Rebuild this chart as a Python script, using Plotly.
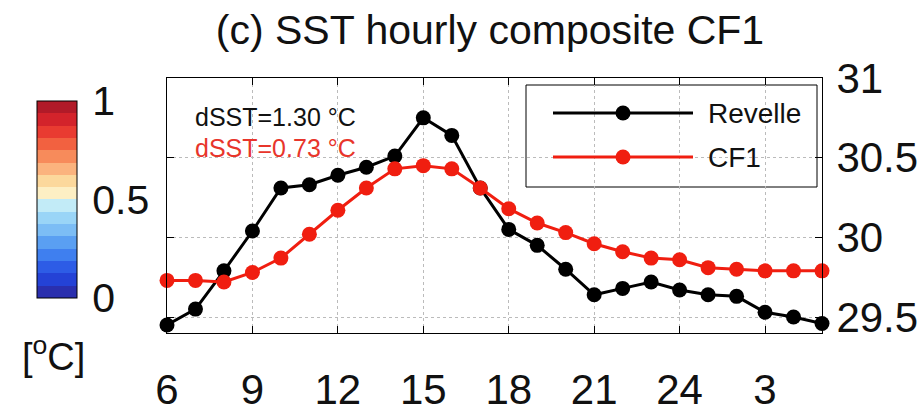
import plotly.graph_objects as go

# ---- data ----
hours = list(range(6, 30))  # local hour 6 .. 29 (29 = 05 next day)
revelle = [29.45, 29.55, 29.79, 30.04, 30.31, 30.33, 30.39, 30.44, 30.51, 30.75,
           30.64, 30.31, 30.05, 29.95, 29.80, 29.64, 29.68, 29.72, 29.67, 29.64,
           29.63, 29.53, 29.50, 29.46]
cf1 = [29.73, 29.73, 29.72, 29.78, 29.87, 30.02, 30.17, 30.31, 30.43, 30.45,
       30.43, 30.31, 30.18, 30.09, 30.03, 29.96, 29.91, 29.87, 29.86, 29.81,
       29.80, 29.79, 29.79, 29.79]
xtick_vals = [6, 9, 12, 15, 18, 21, 24, 27]
xtick_text = ["6", "9", "12", "15", "18", "21", "24", "3"]
ytick_vals = [29.5, 30, 30.5, 31]
ytick_text = ["29.5", "30", "30.5", "31"]
cbar_colors = ["#2a2fae", "#2442d6", "#2d5ce6", "#3f7fef", "#5a9ff2", "#7cbdf5",
               "#9ad5f7", "#c2ebf7", "#fdefc4", "#fcd89c", "#fbb37e", "#f78b5b",
               "#f26140", "#e93b31", "#d3232b", "#b11a28"]
legend_names = ["Revelle", "CF1"]
dsst_rev = "dSST=1.30 °C"
dsst_cf1 = "dSST=0.73 °C"

FONT = "Liberation Sans, Arial, Helvetica, sans-serif"
RED = "#f01e10"

# plot area in pixels
W, H = 922, 419
L, R, T, B = 167, 822, 78, 333

fig = go.Figure()

fig.add_trace(go.Scatter(x=hours, y=revelle, mode="lines+markers", name="Revelle",
                         line=dict(color="black", width=3),
                         marker=dict(color="black", size=15), cliponaxis=False,
                         showlegend=False))
fig.add_trace(go.Scatter(x=hours, y=cf1, mode="lines+markers", name="CF1",
                         line=dict(color=RED, width=3),
                         marker=dict(color=RED, size=15), cliponaxis=False,
                         showlegend=False))

# colorbar via a hidden heatmap on overlay axes
n = len(cbar_colors)
cs = []
for i, c in enumerate(cbar_colors):
    cs.append([i / n, c])
    cs.append([(i + 1) / n, c])
fig.add_trace(go.Heatmap(z=[[0, 1]], x=[5, 6], y=[5], xaxis="x2", yaxis="y2",
                         colorscale=cs, zmin=0, zmax=1, hoverinfo="skip",
                         colorbar=dict(x=(37 - L) / (R - L), xanchor="left",
                                       y=(B - 199.5) / (B - T), yanchor="middle",
                                       thickness=40, thicknessmode="pixels",
                                       len=197, lenmode="pixels",
                                       xpad=0, ypad=0,
                                       outlinewidth=1, outlinecolor="black",
                                       tickvals=[0, 0.5, 1], ticktext=["0", "0.5", "1"],
                                       ticks="outside", ticklen=7, tickcolor="rgba(0,0,0,0)",
                                       tickfont=dict(size=41, family=FONT, color="#111"))))

# custom legend (overlay axes 0..1)
def px_x(p):
    return (p - L) / (R - L)

def px_y(p):
    return (B - p) / (B - T)

leg_rows = [(legend_names[0], "black", 113), (legend_names[1], RED, 157)]
for name, col, ypx in leg_rows:
    yy = px_y(ypx)
    fig.add_trace(go.Scatter(x=[px_x(553), px_x(693)], y=[yy, yy], mode="lines",
                             line=dict(color=col, width=3), xaxis="x2", yaxis="y2",
                             showlegend=False, hoverinfo="skip"))
    fig.add_trace(go.Scatter(x=[px_x(623)], y=[yy], mode="markers",
                             marker=dict(color=col, size=15), xaxis="x2", yaxis="y2",
                             showlegend=False, hoverinfo="skip"))
    fig.add_annotation(x=px_x(706), y=yy, xref="x2", yref="y2", text=name,
                       showarrow=False, xanchor="left", yanchor="middle",
                       font=dict(size=28, family=FONT, color="#111"))

fig.add_shape(type="rect", xref="paper", yref="paper",
              x0=px_x(526), x1=px_x(817), y0=px_y(187), y1=px_y(85),
              line=dict(color="black", width=1), fillcolor="white", layer="between")

# dSST annotations
fig.add_annotation(x=px_x(193), y=px_y(117), xref="paper", yref="paper", text=dsst_rev,
                   showarrow=False, xanchor="left", yanchor="middle",
                   font=dict(size=25, family=FONT, color="#111"))
fig.add_annotation(x=px_x(193), y=px_y(148), xref="paper", yref="paper", text=dsst_cf1,
                   showarrow=False, xanchor="left", yanchor="middle",
                   font=dict(size=25, family=FONT, color="#e8352b"))

# colorbar unit label
fig.add_annotation(x=px_x(53), y=px_y(354), xref="paper", yref="paper",
                   text="[<sup>o</sup>C]", showarrow=False, xanchor="center", yanchor="middle",
                   font=dict(size=38, family=FONT, color="#111"))

axis_common = dict(showline=True, linecolor="black", linewidth=1, mirror="ticks",
                   ticks="inside", ticklen=7, tickcolor="black", automargin=False,
                   showgrid=True, gridcolor="#bbbbbb", griddash="dot", gridwidth=1,
                   zeroline=False)

fig.update_layout(
    width=W, height=H,
    margin=dict(l=L, r=W - R, t=T, b=H - B, pad=0, autoexpand=False),
    paper_bgcolor="white", plot_bgcolor="white",
    title=dict(text="(c) SST hourly composite CF1", x=490 / W, xref="container",
               xanchor="center", y=1 - 30 / H, yref="container", yanchor="middle",
               font=dict(size=41, family=FONT, color="#111")),
    xaxis=dict(range=[6, 29], tickvals=xtick_vals, ticktext=xtick_text,
               ticklabelstandoff=20, tickfont=dict(size=42, family=FONT, color="#111"),
               **axis_common),
    yaxis=dict(range=[29.4, 31], tickvals=ytick_vals, ticktext=ytick_text, side="right",
               ticklabelstandoff=5, tickfont=dict(size=42, family=FONT, color="#111"),
               **axis_common),
    xaxis2=dict(overlaying="x", range=[0, 1], visible=False),
    yaxis2=dict(overlaying="y", range=[0, 1], visible=False),
    showlegend=False,
)

fig.write_html("out.html")
